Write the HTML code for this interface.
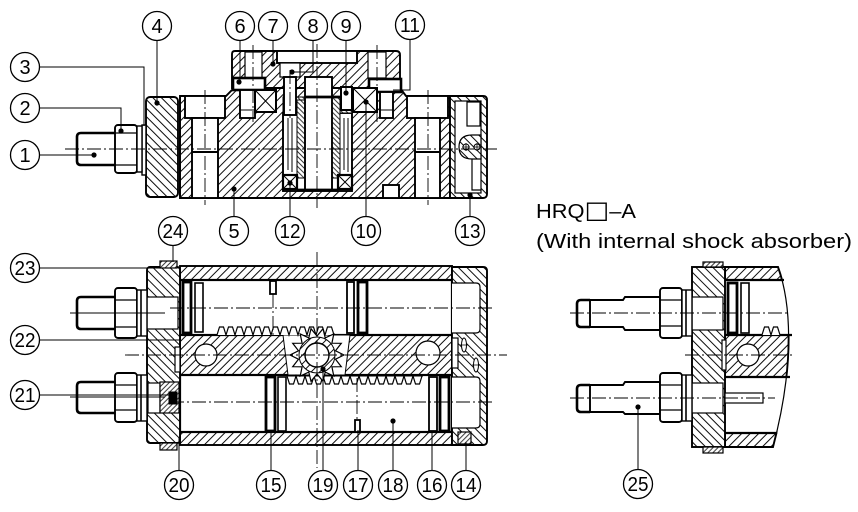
<!DOCTYPE html>
<html><head><meta charset="utf-8">
<style>
html,body{margin:0;padding:0;background:#fff;}
svg{display:block;}
text{font-family:"Liberation Sans",Arial,sans-serif;fill:#000;}
</style></head><body>
<svg width="858" height="512" viewBox="0 0 858 512" xmlns="http://www.w3.org/2000/svg">
<defs>
<pattern id="hf" patternUnits="userSpaceOnUse" width="6" height="6" patternTransform="rotate(45)"><rect width="6" height="6" fill="#fff"/><line x1="3" y1="0" x2="3" y2="6" stroke="#000" stroke-width="0.95"/></pattern>
<pattern id="hb" patternUnits="userSpaceOnUse" width="6" height="6" patternTransform="rotate(-45)"><rect width="6" height="6" fill="#fff"/><line x1="3" y1="0" x2="3" y2="6" stroke="#000" stroke-width="0.95"/></pattern>
<pattern id="hd" patternUnits="userSpaceOnUse" width="3.5" height="3.5" patternTransform="rotate(-45)"><rect width="3.5" height="3.5" fill="#fff"/><line x1="1.7" y1="0" x2="1.7" y2="3.5" stroke="#000" stroke-width="0.8"/></pattern>
<pattern id="hdf" patternUnits="userSpaceOnUse" width="3.5" height="3.5" patternTransform="rotate(45)"><rect width="3.5" height="3.5" fill="#fff"/><line x1="1.7" y1="0" x2="1.7" y2="3.5" stroke="#000" stroke-width="0.8"/></pattern>
</defs>

<!-- ================= TOP VIEW ================= -->
<g stroke="#000" stroke-width="1.9">
  <path d="M180,96 H226 L234,88 H400 L406,96 H450 V198 H180 Z" fill="url(#hf)"/>
  <rect x="146" y="97" width="32" height="100" rx="4" fill="url(#hb)"/>
  <line x1="180" y1="97" x2="180" y2="197"/>
  <path d="M450,96 H483 Q487,96 487,100 V194 Q487,198 483,198 H450 Z" fill="url(#hb)"/>
  <rect x="455" y="101" width="26" height="92" fill="#fff" stroke-width="1.2"/>
  <rect x="467" y="102" width="13" height="24" fill="#fff" stroke-width="1.2"/>
  <path d="M481,135 H472 Q459,135 459,147 Q459,159 472,159 H481 Z" fill="url(#hb)" stroke-width="1.2"/>
  <path d="M472,159 V190 H481" fill="none" stroke-width="1.2"/>
  <path d="M232,88 V54 Q232,51 235,51 H396 Q400,51 400,55 V88 Z" fill="url(#hf)"/>
  <rect x="185" y="96" width="40" height="22" fill="#fff"/>
  <rect x="192" y="118" width="26" height="80" fill="#fff"/>
  <line x1="192" y1="152" x2="218" y2="152"/>
  <rect x="407" y="96" width="41" height="22" fill="#fff"/>
  <rect x="415" y="118" width="25" height="80" fill="#fff"/>
  <line x1="415" y1="152" x2="440" y2="152"/>
  <rect x="383" y="185" width="16" height="13" fill="#fff"/>
  <rect x="277" y="51" width="80" height="12" fill="#fff"/>
  <rect x="280" y="63" width="20" height="14" fill="#fff" stroke-width="1.2"/>
  <rect x="245" y="52" width="17" height="26" fill="#fff" stroke-width="1.2"/>
  <rect x="368" y="52" width="18" height="26" fill="#fff" stroke-width="1.2"/>
  <rect x="233" y="78" width="32" height="12" fill="#fff" stroke-width="2.6"/>
  <rect x="240" y="90" width="15" height="28" fill="#fff"/>
  <line x1="240" y1="110" x2="255" y2="110" stroke-width="1"/>
  <rect x="369" y="79" width="32" height="13" fill="#fff" stroke-width="2.6"/>
  <rect x="380" y="92" width="13" height="26" fill="#fff"/>
  <line x1="380" y1="110" x2="393" y2="110" stroke-width="1"/>
  <rect x="283" y="113" width="69" height="78" fill="#fff"/>
  <path d="M283,97 H352 V113 H283 Z" fill="url(#hd)" stroke-width="1"/>
  <rect x="297" y="100" width="8" height="78" fill="url(#hd)" stroke-width="1"/>
  <rect x="332" y="97" width="8" height="81" fill="url(#hd)" stroke-width="1"/>
  <rect x="305" y="77" width="27" height="113" fill="#fff"/>
  <line x1="305" y1="97" x2="345" y2="97" stroke-width="2.8"/>
  <line x1="288" y1="118" x2="288" y2="170" stroke-width="1"/>
  <line x1="292" y1="118" x2="292" y2="172" stroke-width="1"/>
  <line x1="344" y1="118" x2="344" y2="170" stroke-width="1"/>
  <line x1="348" y1="118" x2="348" y2="172" stroke-width="1"/>
  <rect x="284" y="77" width="12" height="38" fill="#fff"/>
  <rect x="283" y="175" width="14" height="14" fill="#fff" stroke-width="2.2"/>
  <path d="M283,175 L297,189 M297,175 L283,189" stroke-width="1"/>
  <rect x="338" y="175" width="14" height="14" fill="#fff" stroke-width="2.2"/>
  <path d="M338,175 L352,189 M352,175 L338,189" stroke-width="1"/>
  <line x1="297" y1="190" x2="338" y2="190" stroke-width="2.8"/>
  <rect x="255" y="90" width="21" height="22" fill="#fff" stroke-width="2"/>
  <path d="M255,90 L276,112 M276,90 L255,112" stroke-width="1"/>
  <rect x="353" y="88" width="24" height="24" fill="#fff" stroke-width="2"/>
  <path d="M353,88 L377,112 M377,88 L353,112" stroke-width="1"/>
  <rect x="341" y="87" width="11" height="23" fill="#fff" stroke-width="2"/>
  <rect x="142" y="125" width="4" height="50" fill="#fff" stroke-width="1.4"/>
  <path d="M115,133 H81 Q77,133 77,137 V161 Q77,165 81,165 H115" fill="#fff" stroke-width="2.6"/>
  <rect x="115" y="125" width="22" height="48" rx="3" fill="#fff"/>
  <line x1="115" y1="133" x2="137" y2="133" stroke-width="1.2"/>
  <line x1="115" y1="165" x2="137" y2="165" stroke-width="1.2"/>
  <rect x="137" y="126" width="5" height="46" fill="#fff" stroke-width="1.4"/>
  <circle cx="466" cy="147" r="3" fill="#fff" stroke-width="1"/>
  <circle cx="477" cy="147" r="3" fill="#fff" stroke-width="1"/>
  <path d="M466,143 V151 M462,147 H470 M477,143 V151 M473,147 H481" stroke-width="0.8"/>
</g>
<g stroke="#000" stroke-width="0.9" fill="none" stroke-dasharray="14,3,2,3">
  <line x1="65" y1="149" x2="500" y2="149"/>
  <line x1="317" y1="44" x2="317" y2="208"/>
  <line x1="205" y1="90" x2="205" y2="205"/>
  <line x1="428" y1="90" x2="428" y2="205"/>
  <line x1="253" y1="45" x2="253" y2="122"/>
  <line x1="377" y1="45" x2="377" y2="122"/>
  <line x1="290" y1="70" x2="290" y2="118"/>
</g>

<!-- ================= BOTTOM VIEW ================= -->
<g stroke="#000" stroke-width="1.9">
  <rect x="180" y="266" width="272" height="179" fill="url(#hf)"/>
  <rect x="180" y="280" width="272" height="55" fill="#fff" stroke-width="2.2"/>
  <rect x="180" y="375" width="272" height="57" fill="#fff" stroke-width="2.2"/>
  <path d="M283,335 H350 L345,375 H288 Z" fill="#fff" stroke-width="1"/>
  <rect x="147" y="267" width="33" height="176" rx="3" fill="url(#hb)"/>
  <rect x="147" y="297" width="31" height="32" fill="#fff" stroke-width="1.2"/>
  <rect x="148" y="383" width="12" height="30" fill="#fff" stroke-width="1.2"/>
  <rect x="160" y="382" width="19" height="31" fill="url(#hdf)" stroke-width="1.2"/>
  <rect x="169" y="392" width="8" height="12" fill="#000" stroke-width="1"/>
  <rect x="175" y="347" width="5" height="25" fill="#fff" stroke-width="1.2"/>
  <path d="M452,267 H483 Q487,267 487,271 V441 Q487,445 483,445 H452 Z" fill="url(#hb)"/>
  <path d="M452,283 H476 Q480,283 480,287 V329 Q480,333 476,333 H452" fill="#fff" stroke-width="1.2"/>
  <path d="M452,377 H476 Q480,377 480,381 V424 Q480,428 476,428 H452" fill="#fff" stroke-width="1.2"/>
  <rect x="452" y="338" width="6" height="30" fill="#fff" stroke-width="1.2"/>
  <ellipse cx="464" cy="345" rx="2.5" ry="7" fill="#fff" stroke-width="1"/>
  <ellipse cx="476" cy="365" rx="2.5" ry="7" fill="#fff" stroke-width="1"/>
  <path d="M460,345 H468 M472,365 H480" stroke-width="0.8"/>
  <circle cx="206" cy="355" r="11" fill="#fff" stroke-width="1.2"/>
  <circle cx="428" cy="353" r="12" fill="#fff" stroke-width="1.2"/>
  <rect x="183" y="282" width="8" height="51" fill="#fff" stroke-width="2.8"/>
  <rect x="195" y="283" width="8" height="49" fill="#fff" stroke-width="1.6"/>
  <rect x="347" y="282" width="7" height="51" fill="#fff" stroke-width="1.8"/>
  <rect x="358" y="282" width="9" height="51" fill="#fff" stroke-width="2.8"/>
  <rect x="266" y="377" width="9" height="54" fill="#fff" stroke-width="2.8"/>
  <rect x="278" y="377" width="8" height="54" fill="#fff" stroke-width="1.6"/>
  <rect x="429" y="377" width="8" height="54" fill="#fff" stroke-width="1.8"/>
  <rect x="440" y="377" width="9" height="54" fill="#fff" stroke-width="2.8"/>
  <rect x="270" y="281" width="6" height="13" fill="#fff" stroke-width="1.8"/>
  <rect x="355" y="420" width="5" height="12" fill="#fff" stroke-width="1.8"/>
  <path d="M217,335 l2.5,-8 h4 l2.5,8 l2.5,-8 h4 l2.5,8 l2.5,-8 h4 l2.5,8 l2.5,-8 h4 l2.5,8 l2.5,-8 h4 l2.5,8 l2.5,-8 h4 l2.5,8 l2.5,-8 h4 l2.5,8 l2.5,-8 h4 l2.5,8 l2.5,-8 h4 l2.5,8 l2.5,-8 h4 l2.5,8 l2.5,-8 h4 l2.5,8 l2.5,-8 h4 l2.5,8 l2.5,-8 h4 l2.5,8" fill="#fff" stroke-width="1.2"/>
  <path d="M287,376 l2.5,8 h4 l2.5,-8 l2.5,8 h4 l2.5,-8 l2.5,8 h4 l2.5,-8 l2.5,8 h4 l2.5,-8 l2.5,8 h4 l2.5,-8 l2.5,8 h4 l2.5,-8 l2.5,8 h4 l2.5,-8 l2.5,8 h4 l2.5,-8 l2.5,8 h4 l2.5,-8 l2.5,8 h4 l2.5,-8 l2.5,8 h4 l2.5,-8 l2.5,8 h4 l2.5,-8 l2.5,8 h4 l2.5,-8 l2.5,8 h4 l2.5,-8 l2.5,8 h4 l2.5,-8" fill="#fff" stroke-width="1.2"/>
  <line x1="287" y1="376" x2="423" y2="376" stroke-width="1"/>
  <polygon points="344,355 335.5,359.2 341.3,366.7 331.9,366.8 333.8,376.1 325.2,372.1 323,381.3 317,374 311,381.3 308.8,372.1 300.2,376.1 302.1,366.8 292.7,366.7 298.5,359.2 290,355 298.5,350.8 292.7,343.3 302.1,343.2 300.2,333.9 308.8,337.9 311,328.7 317,336 323,328.7 325.2,337.9 333.8,333.9 331.9,343.2 341.3,343.3 335.5,350.8" fill="#fff" stroke-width="1.2"/>
  <circle cx="317" cy="355" r="18" fill="url(#hf)" stroke-width="1"/>
  <circle cx="317" cy="355" r="12" fill="#fff" stroke-width="1.4"/>
  <rect x="160" y="261" width="17" height="7" fill="url(#hdf)" stroke-width="1.2"/>
  <rect x="160" y="443" width="17" height="7" fill="url(#hdf)" stroke-width="1.2"/>
  <rect x="458" y="432" width="13" height="12" fill="url(#hdf)" stroke-width="1.2"/>
  <path d="M115,297 H81 Q77,297 77,301 V325 Q77,329 81,329 H115" fill="#fff" stroke-width="2.6"/>
  <rect x="115" y="288" width="22" height="50" rx="3" fill="#fff"/>
  <line x1="115" y1="300" x2="137" y2="300" stroke-width="1.2"/>
  <line x1="115" y1="327" x2="137" y2="327" stroke-width="1.2"/>
  <rect x="137" y="290" width="10" height="46" fill="#fff" stroke-width="1.4"/>
  <line x1="141" y1="290" x2="141" y2="336" stroke-width="1.6"/>
  <path d="M115,382 H81 Q77,382 77,386 V409 Q77,413 81,413 H115" fill="#fff" stroke-width="2.6"/>
  <rect x="115" y="373" width="22" height="49" rx="3" fill="#fff"/>
  <line x1="115" y1="385" x2="137" y2="385" stroke-width="1.2"/>
  <line x1="115" y1="410" x2="137" y2="410" stroke-width="1.2"/>
  <rect x="137" y="375" width="10" height="46" fill="#fff" stroke-width="1.4"/>
  <line x1="141" y1="375" x2="141" y2="421" stroke-width="1.6"/>
</g>
<g stroke="#000" stroke-width="0.9" fill="none" stroke-dasharray="14,3,2,3">
  <line x1="170" y1="308" x2="493" y2="308"/>
  <line x1="125" y1="355" x2="507" y2="355"/>
  <line x1="170" y1="402" x2="493" y2="402"/>
  <line x1="317" y1="252" x2="317" y2="468"/>
  <line x1="273" y1="294" x2="273" y2="335"/>
  <line x1="357" y1="378" x2="357" y2="420"/>
</g>
<g stroke="#000" stroke-width="0.9">
  <line x1="70" y1="313" x2="165" y2="313"/>
  <line x1="70" y1="397" x2="165" y2="397"/>
</g>

<!-- ================= RIGHT VIEW ================= -->
<g stroke="#000" stroke-width="1.9">
  <path d="M725,267 H778 C790,300 796,360 773,447 H725 Z" fill="url(#hf)"/>
  <path d="M725,280 H784 C788,300 792,318 792,335 H725 Z" fill="#fff" stroke="none"/>
  <path d="M725,377 H790 C789,400 785,418 777,433 H725 Z" fill="#fff" stroke="none"/>
  <path d="M725,280 H784 M725,335 H792 M725,377 H790 M725,433 H776" fill="none" stroke-width="2.2"/>
  <path d="M778,267 C790,300 796,360 773,447" fill="none" stroke-width="1.2"/>
  <rect x="692" y="267" width="33" height="180" fill="url(#hb)"/>
  <rect x="692" y="297" width="31" height="33" fill="#fff" stroke-width="1.2"/>
  <rect x="692" y="383" width="31" height="30" fill="#fff" stroke-width="1.2"/>
  <rect x="722" y="340" width="4" height="30" fill="#fff" stroke-width="1.2"/>
  <rect x="728" y="283" width="9" height="50" fill="#fff" stroke-width="2.8"/>
  <rect x="741" y="283" width="8" height="50" fill="#fff" stroke-width="1.6"/>
  <path d="M762,335 l2.5,-8 h4 l2.5,8 l2.5,-8 h4 l2.5,8" fill="#fff" stroke-width="1.2"/>
  <circle cx="748" cy="355" r="11" fill="#fff" stroke-width="1.2"/>
  <rect x="725" y="393" width="38" height="10" fill="#fff" stroke-width="1.2"/>
  <rect x="703" y="262" width="20" height="5" fill="url(#hdf)" stroke-width="1.2"/>
  <rect x="703" y="447" width="20" height="6" fill="url(#hdf)" stroke-width="1.2"/>
  <path d="M590,300 H581 Q577,300 577,304 V323 Q577,327 581,327 H590" fill="#fff" stroke-width="2.6"/>
  <path d="M590,300 H623 L625,297 H660 V330 H625 L623,327 H590 Z" fill="#fff"/>
  <rect x="660" y="288" width="22" height="50" rx="3" fill="#fff"/>
  <line x1="660" y1="300" x2="682" y2="300" stroke-width="1.2"/>
  <line x1="660" y1="326" x2="682" y2="326" stroke-width="1.2"/>
  <rect x="682" y="290" width="10" height="46" fill="#fff" stroke-width="1.4"/>
  <line x1="686" y1="290" x2="686" y2="336" stroke-width="1.6"/>
  <path d="M590,385 H581 Q577,385 577,389 V408 Q577,412 581,412 H590" fill="#fff" stroke-width="2.6"/>
  <path d="M590,385 H623 L625,382 H660 V414 H625 L623,412 H590 Z" fill="#fff"/>
  <rect x="660" y="373" width="22" height="49" rx="3" fill="#fff"/>
  <line x1="660" y1="385" x2="682" y2="385" stroke-width="1.2"/>
  <line x1="660" y1="410" x2="682" y2="410" stroke-width="1.2"/>
  <rect x="682" y="375" width="10" height="46" fill="#fff" stroke-width="1.4"/>
  <line x1="686" y1="375" x2="686" y2="421" stroke-width="1.6"/>
</g>
<g stroke="#000" stroke-width="0.9" fill="none" stroke-dasharray="14,3,2,3">
  <line x1="570" y1="313" x2="790" y2="313"/>
  <line x1="685" y1="355" x2="793" y2="355"/>
  <line x1="570" y1="398" x2="775" y2="398"/>
</g>

<!-- ================= LEADERS ================= -->
<g stroke="#000" stroke-width="1" fill="none">
  <path d="M40,155 H94"/>
  <path d="M40,108 H121 V131"/>
  <path d="M40,67 H144 V126"/>
  <path d="M157,41 V103"/>
  <path d="M240,41 V82"/>
  <path d="M273,41 V64"/>
  <path d="M313,41 V72 H292"/>
  <path d="M346,41 V93"/>
  <path d="M410,40 V90 H393"/>
  <path d="M234,216 V189"/>
  <path d="M290,216 V183"/>
  <path d="M366,216 V102"/>
  <path d="M470,216 V195"/>
  <path d="M40,268 H160"/>
  <path d="M173,246 V262"/>
  <path d="M40,340 H180"/>
  <path d="M40,395 H172"/>
  <path d="M179,470 V438"/>
  <path d="M271,470 V432"/>
  <path d="M323,470 V369"/>
  <path d="M358,470 V430"/>
  <path d="M393,470 V421"/>
  <path d="M432,470 V432"/>
  <path d="M466,470 V442"/>
  <path d="M638,469 V407"/>
</g>
<g fill="#000">
  <circle cx="94" cy="155" r="2.6"/>
  <circle cx="121" cy="131" r="2.6"/>
  <circle cx="157" cy="103" r="2.6"/>
  <circle cx="239" cy="82" r="2.6"/>
  <circle cx="273" cy="64" r="2.6"/>
  <circle cx="292" cy="72" r="2.6"/>
  <circle cx="346" cy="93" r="2.6"/>
  <circle cx="234" cy="189" r="2.6"/>
  <circle cx="290" cy="183" r="2.6"/>
  <circle cx="366" cy="102" r="2.6"/>
  <circle cx="470" cy="195" r="2.6"/>
  <circle cx="323" cy="369" r="2.6"/>
  <circle cx="393" cy="421" r="2.6"/>
  <circle cx="638" cy="407" r="2.6"/>
</g>

<!-- ================= BALLOONS ================= -->
<g stroke="#000" stroke-width="1.3" fill="#fff">
  <circle cx="25" cy="155" r="14.5"/><circle cx="25" cy="108" r="14.5"/><circle cx="25" cy="67" r="14.5"/>
  <circle cx="157" cy="26" r="14.5"/><circle cx="240" cy="26" r="14.5"/><circle cx="273" cy="26" r="14.5"/>
  <circle cx="313" cy="26" r="14.5"/><circle cx="346" cy="26" r="14.5"/><circle cx="410" cy="25" r="14.5"/>
  <circle cx="234" cy="231" r="14.5"/><circle cx="290" cy="231" r="14.5"/><circle cx="366" cy="231" r="14.5"/><circle cx="470" cy="231" r="14.5"/>
  <circle cx="25" cy="268" r="14.5"/><circle cx="173" cy="231" r="14.5"/><circle cx="25" cy="340" r="14.5"/><circle cx="25" cy="395" r="14.5"/>
  <circle cx="179" cy="485" r="14.5"/><circle cx="271" cy="485" r="14.5"/><circle cx="323" cy="485" r="14.5"/><circle cx="358" cy="485" r="14.5"/>
  <circle cx="393" cy="485" r="14.5"/><circle cx="432" cy="485" r="14.5"/><circle cx="466" cy="485" r="14.5"/><circle cx="638" cy="484" r="14.5"/>
</g>
<g font-size="20" text-anchor="middle">
  <text x="25" y="162">1</text><text x="25" y="115">2</text><text x="25" y="74">3</text>
  <text x="157" y="33">4</text><text x="240" y="33">6</text><text x="273" y="33">7</text>
  <text x="313" y="33">8</text><text x="346" y="33">9</text>
  <text x="410" y="32" textLength="20" lengthAdjust="spacingAndGlyphs">11</text>
  <text x="234" y="238">5</text>
  <text x="290" y="238" textLength="21" lengthAdjust="spacingAndGlyphs">12</text>
  <text x="366" y="238" textLength="21" lengthAdjust="spacingAndGlyphs">10</text>
  <text x="470" y="238" textLength="21" lengthAdjust="spacingAndGlyphs">13</text>
  <text x="25" y="275" textLength="21" lengthAdjust="spacingAndGlyphs">23</text>
  <text x="173" y="238" textLength="21" lengthAdjust="spacingAndGlyphs">24</text>
  <text x="25" y="347" textLength="21" lengthAdjust="spacingAndGlyphs">22</text>
  <text x="25" y="402" textLength="21" lengthAdjust="spacingAndGlyphs">21</text>
  <text x="179" y="492" textLength="21" lengthAdjust="spacingAndGlyphs">20</text>
  <text x="271" y="492" textLength="21" lengthAdjust="spacingAndGlyphs">15</text>
  <text x="323" y="492" textLength="21" lengthAdjust="spacingAndGlyphs">19</text>
  <text x="358" y="492" textLength="21" lengthAdjust="spacingAndGlyphs">17</text>
  <text x="393" y="492" textLength="21" lengthAdjust="spacingAndGlyphs">18</text>
  <text x="432" y="492" textLength="21" lengthAdjust="spacingAndGlyphs">16</text>
  <text x="466" y="492" textLength="21" lengthAdjust="spacingAndGlyphs">14</text>
  <text x="638" y="491" textLength="21" lengthAdjust="spacingAndGlyphs">25</text>
</g>

<!-- ================= TITLE ================= -->
<text x="536" y="218" font-size="20" textLength="100" lengthAdjust="spacingAndGlyphs">HRQ<tspan font-family="DejaVu Sans" font-size="24">□</tspan>–A</text>
<text x="536" y="248" font-size="20" textLength="316" lengthAdjust="spacingAndGlyphs">(With internal shock absorber)</text>
</svg>
</body></html>
